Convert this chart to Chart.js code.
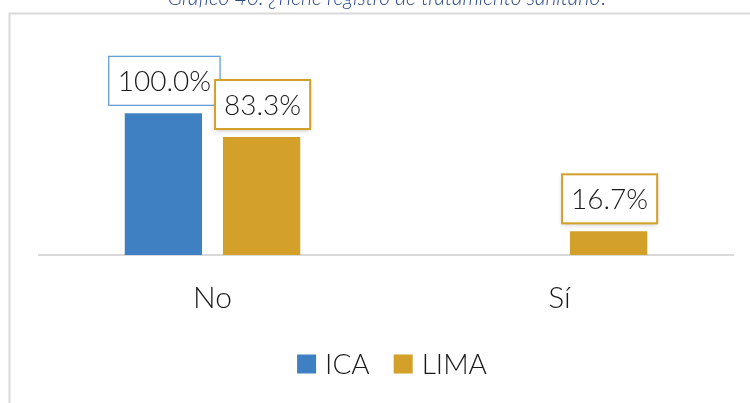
<!DOCTYPE html>
<html>
<head>
<meta charset="utf-8">
<script src="https://cdn.jsdelivr.net/npm/chart.js@4/dist/chart.umd.min.js"></script>
<style>
html,body{margin:0;padding:0;background:#fff;}
#wrap{width:750px;height:403px;position:relative;}
</style>
</head>
<body>
<div id="wrap"><canvas id="c" width="750" height="403"></canvas></div>
<script>
const titleText = "Gráfico 40: ¿Tiene registro de tratamiento sanitario?";
const categories = ["No", "Sí"];
const seriesNames = ["ICA", "LIMA"];
const icaValues = [100.0, null];
const limaValues = [83.3, 16.7];
const seriesColors = ["#3E80C1", "#D3A02A"];
const labelBorderColors = ["#5A98D3", "#D3A02A"];

const FONT = "Lato, 'Open Sans', sans-serif";

const decorPlugin = {
  id: 'decor',
  beforeDraw(chart) {
    const ctx = chart.ctx;
    ctx.save();
    ctx.fillStyle = '#fff';
    ctx.fillRect(0, 0, chart.width, chart.height);
    ctx.strokeStyle = '#d9d9d9';
    ctx.lineWidth = 2;
    ctx.beginPath();
    ctx.moveTo(9.5, 403);
    ctx.lineTo(9.5, 13.5);
    ctx.lineTo(750, 13.5);
    ctx.stroke();
    ctx.fillStyle = '#2A4A8A';
    ctx.font = "italic 300 21px " + FONT;
    ctx.textAlign = 'center';
    ctx.textBaseline = 'alphabetic';
    ctx.fillText(titleText, 388, 5);
    ctx.restore();
  },
  afterDatasetsDraw(chart) {
    const ctx = chart.ctx;
    ctx.save();
    chart.data.datasets.forEach((ds, di) => {
      const meta = chart.getDatasetMeta(di);
      meta.data.forEach((bar, i) => {
        const v = ds.data[i];
        if (v === null || v === undefined) return;
        const txt = v.toFixed(1) + '%';
        ctx.font = "300 28px " + FONT;
        const tw = ctx.measureText(txt).width;
        const w = tw + 18;
        const h = 49;
        const x = bar.x - w / 2 + 1;
        const y = bar.y - 8 - h;
        if (di === 1) {
          ctx.shadowColor = 'rgba(0,0,0,0.25)';
          ctx.shadowBlur = 5;
          ctx.shadowOffsetY = 2;
        }
        ctx.fillStyle = '#fff';
        ctx.fillRect(x, y, w, h);
        ctx.shadowColor = 'transparent';
        ctx.shadowBlur = 0;
        ctx.shadowOffsetY = 0;
        ctx.strokeStyle = labelBorderColors[di];
        ctx.lineWidth = di === 1 ? 2 : 1.2;
        ctx.strokeRect(x, y, w, h);
        ctx.fillStyle = '#1a1a1a';
        ctx.textAlign = 'center';
        ctx.textBaseline = 'middle';
        ctx.fillText(txt, x + w / 2, y + h / 2 + 1);
      });
    });
    ctx.restore();
  },
  afterDraw(chart) {
    const ctx = chart.ctx;
    ctx.save();
    ctx.font = "300 28px " + FONT;
    ctx.textBaseline = 'middle';
    ctx.textAlign = 'left';
    const items = chart.data.datasets.map(d => ({label: d.label, color: d.backgroundColor}));
    const box = 19, gapText = 9, gapItem = 24;
    let total = 0;
    items.forEach((it, k) => {
      it.tw = ctx.measureText(it.label).width;
      total += box + gapText + it.tw + (k < items.length - 1 ? gapItem : 0);
    });
    let x = 392 - total / 2;
    const cy = 364;
    items.forEach(it => {
      ctx.fillStyle = it.color;
      ctx.fillRect(x, cy - box / 2, box, box);
      x += box + gapText;
      ctx.fillStyle = '#1a1a1a';
      ctx.fillText(it.label, x, cy + 1);
      x += it.tw + gapItem;
    });
    ctx.restore();
  }
};

new Chart(document.getElementById('c'), {
  type: 'bar',
  data: {
    labels: categories,
    datasets: [
      { label: seriesNames[0], data: icaValues, backgroundColor: seriesColors[0] },
      { label: seriesNames[1], data: limaValues, backgroundColor: seriesColors[1] }
    ]
  },
  options: {
    responsive: false,
    animation: false,
    devicePixelRatio: 1,
    layout: { padding: { left: 39, right: 17, top: 85, bottom: 62 } },
    datasets: { bar: { categoryPercentage: 0.566, barPercentage: 0.787 } },
    plugins: { legend: { display: false }, tooltip: { enabled: false }, title: { display: false } },
    scales: {
      x: {
        grid: { display: false, drawTicks: false },
        border: { display: true, color: '#d9d9d9', width: 2 },
        ticks: { color: '#1a1a1a', font: { family: FONT, size: 30, weight: 300 }, padding: 25 }
      },
      y: {
        display: false,
        min: 0,
        max: 120
      }
    }
  },
  plugins: [decorPlugin]
});
</script>
</body>
</html>
